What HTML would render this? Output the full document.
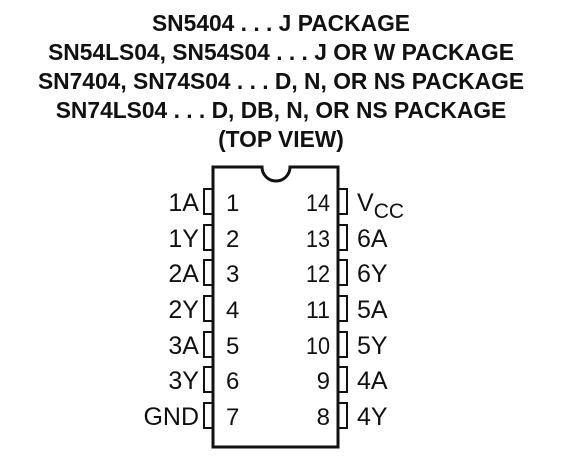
<!DOCTYPE html>
<html><head><style>
body{margin:0;background:#fff;}
svg{display:block}
</style></head><body>
<svg width="562" height="472" xmlns="http://www.w3.org/2000/svg" font-family="Liberation Sans, Arial, sans-serif">
<g font-weight="bold" font-size="22.8" text-anchor="middle" fill="#111">
<text x="281" y="31">SN5404 . . . J PACKAGE</text>
<text x="281" y="60">SN54LS04, SN54S04 . . . J OR W PACKAGE</text>
<text x="281" y="89">SN7404, SN74S04 . . . D, N, OR NS PACKAGE</text>
<text x="281" y="118">SN74LS04 . . . D, DB, N, OR NS PACKAGE</text>
<text x="281" y="147">(TOP VIEW)</text>
</g>
<path d="M213 167 H262 A14 14 0 0 0 290 167 H338 V447 H213 Z" fill="none" stroke="#111" stroke-width="3"/>
<g fill="none" stroke="#111" stroke-width="2">
<rect x="204" y="189" width="9" height="25"/><rect x="204" y="225" width="9" height="25"/>
<rect x="204" y="260" width="9" height="25"/><rect x="204" y="296" width="9" height="25"/>
<rect x="204" y="332" width="9" height="25"/><rect x="204" y="367" width="9" height="25"/>
<rect x="204" y="403" width="9" height="25"/>
<rect x="338" y="189" width="9" height="25"/><rect x="338" y="225" width="9" height="25"/>
<rect x="338" y="260" width="9" height="25"/><rect x="338" y="296" width="9" height="25"/>
<rect x="338" y="332" width="9" height="25"/><rect x="338" y="367" width="9" height="25"/>
<rect x="338" y="403" width="9" height="25"/>
</g>
<g font-size="25" fill="#111">
<g text-anchor="end">
<text x="199" y="211">1A</text><text x="199" y="247">1Y</text><text x="199" y="282">2A</text>
<text x="199" y="318">2Y</text><text x="199" y="354">3A</text><text x="199" y="389">3Y</text>
<text x="199" y="425">GND</text>
</g>
<g font-size="24">
<text x="306" y="211" textLength="24" lengthAdjust="spacingAndGlyphs">14</text>
<text x="306" y="247" textLength="24" lengthAdjust="spacingAndGlyphs">13</text>
<text x="306" y="282" textLength="24" lengthAdjust="spacingAndGlyphs">12</text>
<text x="306" y="318" textLength="24" lengthAdjust="spacingAndGlyphs">11</text>
<text x="306" y="354" textLength="24" lengthAdjust="spacingAndGlyphs">10</text>
<text x="330" y="389" text-anchor="end">9</text>
<text x="330" y="425" text-anchor="end">8</text>
<text x="226" y="211">1</text><text x="226" y="247">2</text><text x="226" y="282">3</text>
<text x="226" y="318">4</text><text x="226" y="354">5</text><text x="226" y="389">6</text>
<text x="226" y="425">7</text>
</g>
<text x="357" y="211">V<tspan font-size="21" dy="7">CC</tspan></text>
<text x="357" y="247">6A</text><text x="357" y="282">6Y</text><text x="357" y="318">5A</text>
<text x="357" y="354">5Y</text><text x="357" y="389">4A</text><text x="357" y="425">4Y</text>
</g>
</svg>
</body></html>
